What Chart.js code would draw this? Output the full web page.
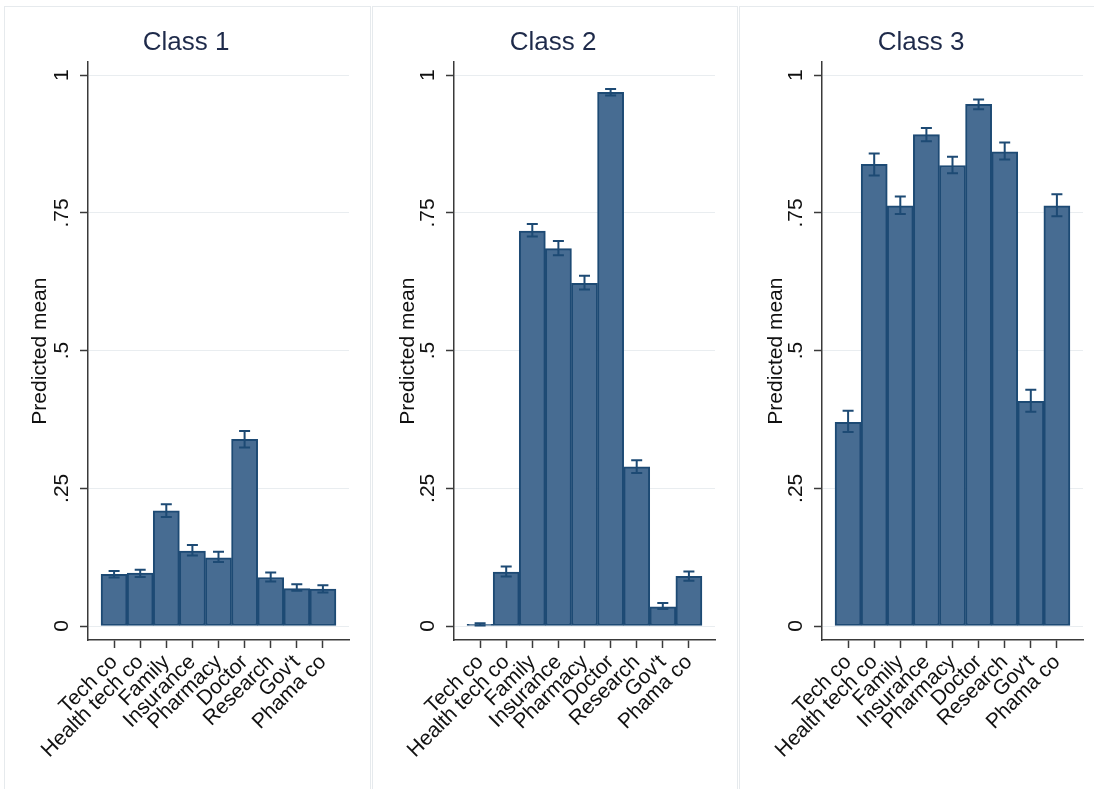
<!DOCTYPE html>
<html>
<head>
<meta charset="utf-8">
<title>Predicted mean by class</title>
<script src="https://cdn.jsdelivr.net/npm/chart.js@4.4.1/dist/chart.umd.min.js"></script>
<style>
  html, body { margin: 0; padding: 0; background: #ffffff; width: 1094px; height: 789px; overflow: hidden; }
  .frame { position: absolute; border: 1px solid #e6eaed; box-sizing: border-box; }
  canvas { position: absolute; top: 0; }
</style>
</head>
<body>
<div class="frame" style="left:4px; top:6px; width:367px; height:800px;"></div>
<div class="frame" style="left:372px; top:6px; width:366px; height:800px;"></div>
<div class="frame" style="left:739px; top:6px; width:370px; height:800px;"></div>
<canvas id="class1" width="372" height="789" style="left:0px;"></canvas>
<canvas id="class2" width="366" height="789" style="left:372px;"></canvas>
<canvas id="class3" width="356" height="789" style="left:738px;"></canvas>
<script>
// Sources of information, in plotting order
const categories = ['Tech co', 'Health tech co', 'Family', 'Insurance', 'Pharmacy', 'Doctor', 'Research', "Gov't", 'Phama co'];

// Class 1: predicted means with confidence bounds
const class1Mean  = [0.094, 0.096, 0.209, 0.136, 0.124, 0.339, 0.088, 0.068, 0.067];
const class1Lower = [0.088, 0.089, 0.198, 0.128, 0.116, 0.324, 0.081, 0.064, 0.061];
const class1Upper = [0.100, 0.102, 0.221, 0.147, 0.135, 0.354, 0.097, 0.076, 0.074];

// Class 2
const class2Mean  = [0.003, 0.098, 0.717, 0.685, 0.622, 0.969, 0.289, 0.035, 0.090];
const class2Lower = [0.001, 0.090, 0.707, 0.673, 0.611, 0.963, 0.278, 0.031, 0.082];
const class2Upper = [0.005, 0.108, 0.730, 0.699, 0.636, 0.975, 0.301, 0.042, 0.099];

// Class 3
const class3Mean  = [0.370, 0.838, 0.763, 0.892, 0.836, 0.947, 0.861, 0.408, 0.763];
const class3Lower = [0.352, 0.818, 0.748, 0.880, 0.822, 0.938, 0.847, 0.389, 0.744];
const class3Upper = [0.391, 0.858, 0.780, 0.904, 0.852, 0.956, 0.878, 0.429, 0.784];

// Y axis ticks
const yTickValues = [0, 0.25, 0.5, 0.75, 1];
const yTickLabels = ['0', '.25', '.5', '.75', '1'];

const FONT = '"Liberation Sans", Arial, Helvetica, sans-serif';
const BAR_FILL = '#476c92';
const BAR_EDGE = '#1d4a74';
const AXIS_COLOR = '#3a3a3a';
const GRID_COLOR = '#e9edf0';
const TITLE_COLOR = '#1e2a4a';
const TEXT_COLOR = '#111111';
const Y_MIN = -0.0254;
const Y_MAX = 1.0236;

// Confidence-interval whiskers drawn on top of the bars
const errorBars = {
  id: 'errorBars',
  afterDatasetsDraw(chart, args, opts) {
    const { ctx, scales: { x, y } } = chart;
    ctx.save();
    ctx.strokeStyle = opts.color;
    ctx.lineWidth = opts.width;
    opts.low.forEach((lo, i) => {
      const px = x.getPixelForValue(i);
      const yl = y.getPixelForValue(lo);
      const yh = y.getPixelForValue(opts.high[i]);
      const h = opts.cap / 2;
      ctx.beginPath();
      ctx.moveTo(px, yl); ctx.lineTo(px, yh);
      ctx.moveTo(px - h, yh); ctx.lineTo(px + h, yh);
      ctx.moveTo(px - h, yl); ctx.lineTo(px + h, yl);
      ctx.stroke();
    });
    ctx.restore();
  }
};

function drawPanel(id, title, means, low, high, lay) {
  new Chart(document.getElementById(id), {
    type: 'bar',
    data: {
      datasets: [{
        data: means.map((v, i) => ({ x: i, y: v })),
        backgroundColor: BAR_FILL,
        borderColor: BAR_EDGE,
        borderWidth: 2,
        borderSkipped: false,
        barPercentage: 1,
        categoryPercentage: 1
      }]
    },
    options: {
      responsive: false,
      animation: false,
      devicePixelRatio: 1,
      layout: { padding: { left: lay.padLeft, right: lay.padRight, top: 0, bottom: 0 } },
      plugins: {
        legend: { display: false },
        tooltip: { enabled: false },
        title: {
          display: true, text: title, color: TITLE_COLOR,
          font: { family: FONT, size: 26, weight: 'normal' },
          padding: { top: 27, bottom: 4 }
        },
        errorBars: { low: low, high: high, color: BAR_EDGE, width: 2, cap: 11 }
      },
      scales: {
        x: {
          type: 'linear',
          min: -1,
          max: categories.length,
          offset: false,
          afterBuildTicks: s => { s.ticks = categories.map((_, i) => ({ value: i })); },
          afterFit: s => { s.height = 149; s.paddingLeft = 0; s.paddingRight = 0; },
          ticks: {
            autoSkip: false, minRotation: 45, maxRotation: 45, padding: 2,
            color: TEXT_COLOR, font: { family: FONT, size: 21 },
            callback: v => categories[v]
          },
          grid: { offset: false, drawOnChartArea: false, drawTicks: true, tickLength: 8, tickColor: AXIS_COLOR, tickWidth: 1.5 },
          border: { display: true, color: AXIS_COLOR, width: 1.5 }
        },
        y: {
          min: Y_MIN,
          max: Y_MAX,
          afterBuildTicks: s => { s.ticks = yTickValues.map(v => ({ value: v })); },
          afterFit: s => { s.width = lay.axisWidth; },
          ticks: {
            minRotation: 90, maxRotation: 90, crossAlign: 'center', padding: 3,
            color: TEXT_COLOR, font: { family: FONT, size: 21 },
            callback: v => yTickLabels[yTickValues.indexOf(v)]
          },
          grid: { color: GRID_COLOR, lineWidth: 1, tickColor: AXIS_COLOR, tickLength: 8, tickWidth: 1.5 },
          border: { display: true, color: AXIS_COLOR, width: 1.5 },
          title: {
            display: true, text: 'Predicted mean', color: TEXT_COLOR,
            font: { family: FONT, size: 21 }, padding: { top: 5, bottom: 0 }
          }
        }
      }
    },
    plugins: [errorBars]
  });
}

drawPanel('class1', 'Class 1', class1Mean, class1Lower, class1Upper, { padLeft: 23, padRight: 23, axisWidth: 65 });
drawPanel('class2', 'Class 2', class2Mean, class2Lower, class2Upper, { padLeft: 19, padRight: 23, axisWidth: 63 });
drawPanel('class3', 'Class 3', class3Mean, class3Lower, class3Upper, { padLeft: 21, padRight: 11, axisWidth: 63 });
</script>
</body>
</html>
